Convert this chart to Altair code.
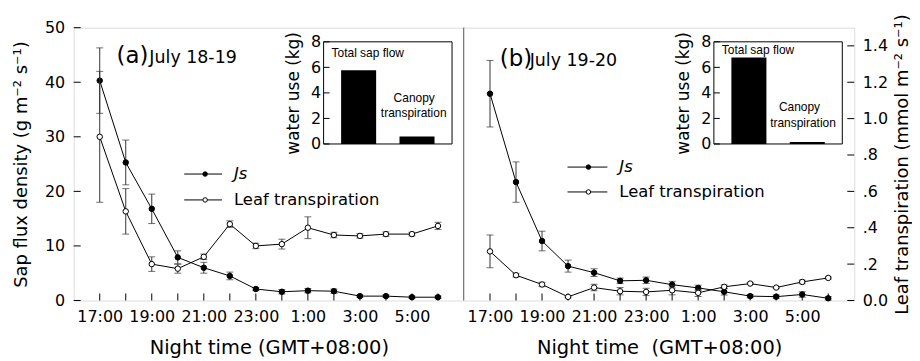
import altair as alt
import pandas as pd

# ---------------- data ----------------
hours = ["17:00", "18:00", "19:00", "20:00", "21:00", "22:00", "23:00",
         "0:00", "1:00", "2:00", "3:00", "4:00", "5:00", "6:00"]
x_tick_labels = ["17:00", "", "19:00", "", "21:00", "", "23:00",
                 "", "1:00", "", "3:00", "", "5:00", ""]

js_a = [40.3, 25.3, 16.8, 7.9, 6.0, 4.5, 2.1, 1.6, 1.8, 1.7, 0.8, 0.8, 0.6, 0.6]
js_a_se = [6.0, 4.1, 2.7, 1.2, 1.0, 0.7, 0.3, 0.4, 0.4, 0.4, 0.2, 0.2, 0.2, 0.2]
leaf_a = [0.90, 0.49, 0.20, 0.175, 0.24, 0.42, 0.30, 0.31, 0.40, 0.36, 0.355, 0.365, 0.365, 0.41]
leaf_a_se = [0.36, 0.125, 0.04, 0.025, 0.015, 0.018, 0.015, 0.027, 0.06, 0.015, 0.012, 0.012, 0.01, 0.02]

js_b = [37.9, 21.7, 10.9, 6.3, 5.1, 3.6, 3.7, 2.9, 2.3, 1.6, 0.8, 0.7, 1.1, 0.4]
js_b_se = [6.1, 3.7, 1.8, 1.1, 0.7, 0.5, 0.6, 0.6, 0.5, 0.6, 0.3, 0.3, 0.5, 0.3]
leaf_b = [0.27, 0.139, 0.088, 0.02, 0.071, 0.051, 0.047, 0.056, 0.042, 0.075, 0.093, 0.071, 0.102, 0.124]
leaf_b_se = [0.09, 0.01, 0.012, 0.005, 0.018, 0.02, 0.02, 0.025, 0.02, 0.01, 0.005, 0.005, 0.01, 0.005]

left_ticks = [0, 10, 20, 30, 40, 50]
right_ticks = [0.0, 0.2, 0.4, 0.6, 0.8, 1.0, 1.2, 1.4]
right_tick_labels = ["0.0", ".2", ".4", ".6", ".8", "1.0", "1.2", "1.4"]
inset_ticks = [0, 2, 4, 6, 8]
water_cats = ["Total sap flow", "Canopy transpiration"]
water_a = [5.77, 0.59]
water_b = [6.78, 0.15]
series_names = ["Js", "Leaf transpiration"]

# ---------------- layout constants ----------------
W, H = 392, 274
FONT = "DejaVu Sans"
X_DOM = [-1, 14]
JS_DOM = [0, 50]
LEAF_DOM = [0, 1.5]
INSET_X_RANGE = [251, 380]
INSET_Y_RANGE = [116.8, 14.2]
ERR_COLOR = "#333333"

x_label_expr = "[" + ",".join(f"'{l}'" for l in x_tick_labels) + "][datum.value]"
r_label_expr = "[" + ",".join(f"'{l}'" for l in right_tick_labels) + "][round(datum.value*5)]"

one = pd.DataFrame({"k": [0]})


def series_df(vals, se):
    return pd.DataFrame({
        "idx": list(range(len(hours))),
        "hour": hours,
        "v": vals,
        "lo": [v - s for v, s in zip(vals, se)],
        "hi": [v + s for v, s in zip(vals, se)],
    })


def x_enc(axis):
    return alt.X("idx:Q", scale=alt.Scale(domain=X_DOM, nice=False, zero=False), axis=axis)


def series_layers(df, dom, y_axis, x_axis, fill):
    ys = alt.Scale(domain=dom, nice=False, zero=False)
    base = alt.Chart(df)
    err = base.mark_rule(color=ERR_COLOR, strokeWidth=1).encode(
        x=x_enc(x_axis), y=alt.Y("lo:Q", scale=ys, axis=y_axis), y2="hi:Q")
    cap_lo = base.mark_tick(orient="horizontal", size=7, thickness=1, color=ERR_COLOR).encode(
        x=x_enc(x_axis), y=alt.Y("lo:Q", scale=ys, axis=y_axis))
    cap_hi = base.mark_tick(orient="horizontal", size=7, thickness=1, color=ERR_COLOR).encode(
        x=x_enc(x_axis), y=alt.Y("hi:Q", scale=ys, axis=y_axis))
    line = base.mark_line(color="black", strokeWidth=1).encode(
        x=x_enc(x_axis), y=alt.Y("v:Q", scale=ys, axis=y_axis))
    pts = base.mark_point(shape="circle", filled=True, fill=fill, stroke="black",
                          strokeWidth=1, size=30, opacity=1).encode(
        x=x_enc(x_axis), y=alt.Y("v:Q", scale=ys, axis=y_axis))
    return [err, cap_lo, cap_hi, line, pts]


def panel(js, js_se, leaf, leaf_se, water, tag, date, is_left, pos):
    x_axis = alt.Axis(values=list(range(len(hours))), labelExpr=x_label_expr, ticks=False,
                      domain=False, grid=False, labelFontSize=16, labelColor="black",
                      labelPadding=8, labelAngle=0, labelFlush=False,
                      title=("Night time (GMT+08:00)" if is_left else "Night time \u00a0(GMT+08:00)"),
                      titleFontSize=19.5, titleFontWeight="normal", titleColor="black",
                      titlePadding=14)
    if is_left:
        js_axis = alt.Axis(orient="left", values=left_ticks, ticks=False, domain=False, grid=False,
                           labelFontSize=16, labelColor="black", labelPadding=9,
                           title="Sap flux density (g m\u207b\u00b2 s\u207b\u00b9)",
                           titleFontSize=18, titleFontWeight="normal", titleColor="black",
                           titlePadding=14)
        leaf_axis = None
    else:
        js_axis = None
        leaf_axis = alt.Axis(orient="right", values=right_ticks, labelExpr=r_label_expr,
                             ticks=False, domain=False, grid=False, labelFontSize=16,
                             labelColor="black", labelPadding=8,
                             title="Leaf transpiration (mmol m\u207b\u00b2 s\u207b\u00b9)",
                             titleFontSize=18, titleFontWeight="normal", titleColor="black",
                             titleAngle=270, titleBaseline="top", titlePadding=6)

    # --- Js layer (main x + left scale) ---
    js_scale = alt.Scale(domain=JS_DOM, nice=False, zero=False)
    hours_df = pd.DataFrame({"idx": list(range(len(hours))), "hour": hours})
    xticks = alt.Chart(hours_df).mark_rule(color="black", strokeWidth=1).encode(
        x=x_enc(x_axis), y=alt.value(H - 7), y2=alt.value(H))
    main_parts = [xticks] + series_layers(series_df(js, js_se), JS_DOM, js_axis, x_axis, "black")
    if is_left:
        yt = alt.Chart(pd.DataFrame({"t": left_ticks})).mark_rule(color="black", strokeWidth=1).encode(
            y=alt.Y("t:Q", scale=js_scale, axis=js_axis), x=alt.value(0), x2=alt.value(7))
        main_parts.append(yt)
    main = alt.layer(*main_parts)

    # --- leaf layer (main x + right scale) ---
    leaf_parts = series_layers(series_df(leaf, leaf_se), LEAF_DOM, leaf_axis, None, "white")
    if not is_left:
        leaf_scale = alt.Scale(domain=LEAF_DOM, nice=False, zero=False)
        rt = alt.Chart(pd.DataFrame({"t": right_ticks})).mark_rule(color="black", strokeWidth=1).encode(
            y=alt.Y("t:Q", scale=leaf_scale, axis=leaf_axis), x=alt.value(W - 7), x2=alt.value(W))
        leaf_parts.append(rt)
    leafl = alt.layer(*leaf_parts)

    # --- inset ---
    iy_scale = alt.Scale(domain=[0, 8], range=INSET_Y_RANGE, nice=False, zero=False)
    inset_axis = alt.Axis(orient="left", offset=-INSET_X_RANGE[0], values=inset_ticks, ticks=False,
                          domain=False, grid=False, labelFontSize=16, labelColor="black",
                          labelPadding=3, title="water use (kg)", titleFontSize=17,
                          titleFontWeight="normal", titleColor="black", titlePadding=8)
    wdf = pd.DataFrame({"cat": water_cats, "w": water})
    bars = alt.Chart(wdf).mark_bar(color="black").encode(
        x=alt.X("cat:N", sort=None, axis=None,
                scale=alt.Scale(domain=water_cats, range=INSET_X_RANGE, paddingInner=0.4, paddingOuter=0.3)),
        y=alt.Y("w:Q", scale=iy_scale, axis=inset_axis))
    iticks = alt.Chart(pd.DataFrame({"t": inset_ticks})).mark_rule(color="black", strokeWidth=1).encode(
        y=alt.Y("t:Q", scale=iy_scale, axis=inset_axis),
        x=alt.value(INSET_X_RANGE[0]), x2=alt.value(INSET_X_RANGE[0] + 6))
    frame = alt.Chart(one).mark_rect(fillOpacity=0, stroke="black", strokeWidth=1).encode(
        x=alt.value(INSET_X_RANGE[0]), x2=alt.value(INSET_X_RANGE[1]),
        y=alt.value(INSET_Y_RANGE[1]), y2=alt.value(INSET_Y_RANGE[0]))
    ifont = "Liberation Sans"
    t_total = alt.Chart(one).mark_text(text="Total sap flow", align="left", baseline="middle",
                                       font=ifont, fontSize=12, color="black").encode(
        x=alt.value(259), y=alt.value(pos["total_y"]))
    t_can = alt.Chart(one).mark_text(text="Canopy", align="center", baseline="middle",
                                     font=ifont, fontSize=12, color="black").encode(
        x=alt.value(pos["can_x"]), y=alt.value(pos["can_y"]))
    t_tr = alt.Chart(one).mark_text(text="transpiration", align="center", baseline="middle",
                                    font=ifont, fontSize=12, color="black").encode(
        x=alt.value(pos["tr_x"]), y=alt.value(pos["tr_y"]))
    inset = alt.layer(bars, iticks, frame, t_total, t_can, t_tr)

    # --- panel label ---
    lab_tag = alt.Chart(one).mark_text(text=tag, align="left", baseline="alphabetic",
                                       fontSize=23, font=FONT, color="black").encode(
        x=alt.value(pos["tag_x"]), y=alt.value(pos["tag_y"]))
    lab_date = alt.Chart(one).mark_text(text=date, align="left", baseline="alphabetic",
                                        fontSize=17.5, font=FONT, color="black").encode(
        x=alt.value(pos["date_x"]), y=alt.value(pos["tag_y"]))

    # --- legend ---
    leg = []
    for name, y, fill, style in [(series_names[0], pos["leg_y1"], "black", "italic"),
                                 (series_names[1], pos["leg_y2"], "white", "normal")]:
        leg.append(alt.Chart(one).mark_rule(color="black", strokeWidth=1).encode(
            x=alt.value(pos["leg_x0"]), x2=alt.value(pos["leg_x1"]), y=alt.value(y)))
        leg.append(alt.Chart(one).mark_point(shape="circle", filled=True, fill=fill, stroke="black",
                                             strokeWidth=1, size=20, opacity=1).encode(
            x=alt.value(pos["leg_xm"]), y=alt.value(y)))
        leg.append(alt.Chart(one).mark_text(text=name, align="left", baseline="middle", fontSize=16.5,
                                            fontStyle=style, font=FONT, color="black").encode(
            x=alt.value(pos["leg_xt"]), y=alt.value(y)))

    extra = []
    if is_left:
        # shared divider between the two panels
        extra.append(alt.Chart(one).mark_rule(color="black", strokeWidth=1).encode(
            x=alt.value(W), y=alt.value(0), y2=alt.value(H)))

    return alt.layer(main, leafl, inset, lab_tag, lab_date, *leg, *extra).resolve_scale(
        x="independent", y="independent").properties(width=W, height=H)


pos_a = dict(total_y=25, can_x=342, can_y=71, tr_x=341.5, tr_y=86,
             tag_x=43, tag_y=35, date_x=76,
             leg_x0=111, leg_x1=149, leg_xm=132, leg_xt=161, leg_y1=147, leg_y2=173)
pos_b = dict(total_y=22, can_x=337, can_y=80, tr_x=340.5, tr_y=96,
             tag_x=36, tag_y=38, date_x=66,
             leg_x0=104, leg_x1=144, leg_xm=125, leg_xt=156, leg_y1=140, leg_y2=165)

pa = panel(js_a, js_a_se, leaf_a, leaf_a_se, water_a, "(a)", "July 18-19", True, pos_a)
pb = panel(js_b, js_b_se, leaf_b, leaf_b_se, water_b, "(b)", "July 19-20", False, pos_b)

chart = alt.hconcat(pa, pb, spacing=0, bounds="flush").configure_view(
    stroke="black", strokeWidth=1).configure(
    font=FONT, padding={"left": 4, "top": 4, "right": 0, "bottom": 0}, background="white")

chart.save("out.html", embed_options={"renderer": "svg", "actions": False})
